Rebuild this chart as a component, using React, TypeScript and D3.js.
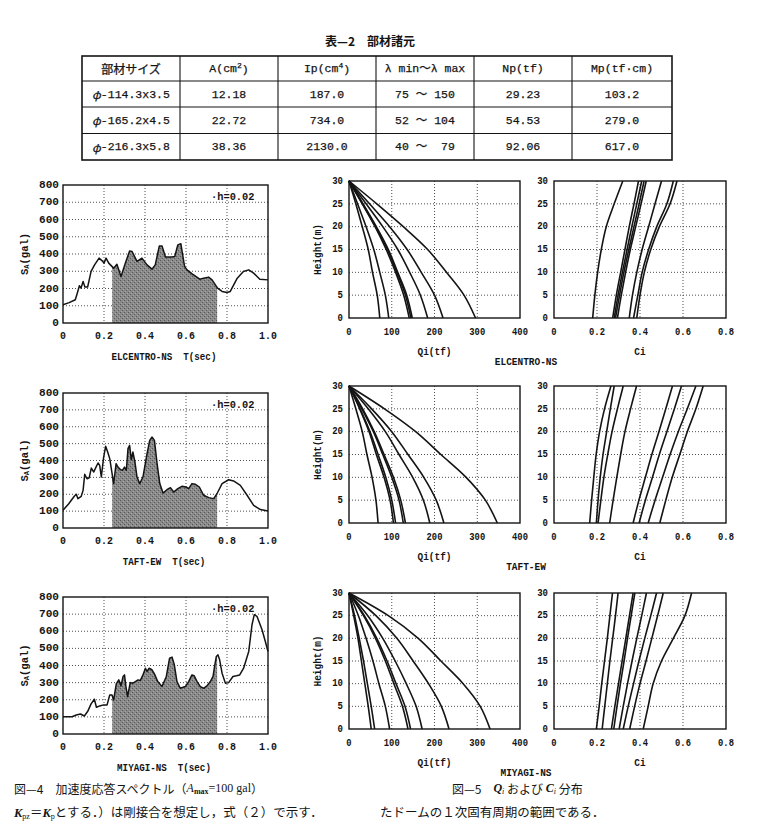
import React from 'react';
import * as d3 from 'd3';

const MONO = '"Liberation Mono", "DejaVu Sans Mono", "Noto Sans CJK JP", monospace';
const JP = '"Noto Sans CJK JP", sans-serif';
const SERIF = '"Liberation Serif", serif';
const INK = '#141414';

// ---- Table 2: member properties ----
const tableTitle = '表—2　部材諸元';
const tableHeaders: [string, string, string][] = [
  ['部材サイズ', '', ''],
  ['A(cm', '2', ')'],
  ['Ip(cm', '4', ')'],
  ['λ min～λ max', '', ''],
  ['Np(tf)', '', ''],
  ['Mp(tf·cm)', '', ''],
];
const tableRows: string[][] = [
  ['φ-114.3x3.5', '12.18', '187.0', '75 ～ 150', '29.23', '103.2'],
  ['φ-165.2x4.5', '22.72', '734.0', '52 ～ 104', '54.53', '279.0'],
  ['φ-216.3x5.8', '38.36', '2130.0', '40 ～  79', '92.06', '617.0'],
];

// ---- Fig. 4: acceleration response spectra (T [sec], SA [gal]) ----
const elcentroSpectrum: [number, number][] = [
  [0, 106], [0.03, 118], [0.06, 135], [0.07, 174], [0.08, 216], [0.088, 202], [0.098, 241],
  [0.107, 208], [0.12, 208], [0.137, 299], [0.154, 337], [0.176, 376], [0.19, 362], [0.2, 347],
  [0.21, 376], [0.223, 347], [0.247, 318], [0.263, 340], [0.283, 270], [0.304, 347], [0.325, 418],
  [0.337, 414], [0.361, 357], [0.385, 376], [0.41, 337], [0.434, 312], [0.45, 337], [0.47, 447],
  [0.483, 447], [0.5, 382], [0.53, 382], [0.545, 385], [0.56, 453], [0.575, 459], [0.593, 328],
  [0.605, 308], [0.63, 285], [0.667, 254], [0.686, 260], [0.71, 266], [0.727, 250], [0.754, 202],
  [0.776, 183], [0.8, 177], [0.816, 183], [0.85, 260], [0.88, 299], [0.906, 308], [0.93, 289],
  [0.96, 254], [1.0, 250],
];
const taftSpectrum: [number, number][] = [
  [0, 105], [0.028, 144], [0.055, 188], [0.065, 200], [0.073, 174], [0.089, 188], [0.098, 223],
  [0.106, 318], [0.117, 292], [0.128, 298], [0.138, 355], [0.15, 332], [0.161, 361], [0.171, 385],
  [0.179, 371], [0.187, 302], [0.198, 417], [0.208, 484], [0.218, 450], [0.228, 411], [0.237, 342],
  [0.247, 263], [0.259, 381], [0.268, 361], [0.28, 346], [0.29, 342], [0.3, 361], [0.309, 342],
  [0.317, 470], [0.325, 490], [0.333, 405], [0.341, 450], [0.351, 391], [0.361, 302], [0.374, 263],
  [0.39, 302], [0.41, 440], [0.423, 519], [0.434, 539], [0.446, 519], [0.459, 381], [0.472, 263],
  [0.488, 207], [0.507, 227], [0.524, 239], [0.54, 213], [0.56, 233], [0.58, 247], [0.6, 243],
  [0.613, 233], [0.629, 263], [0.646, 259], [0.665, 243], [0.686, 194], [0.711, 180], [0.735, 174],
  [0.751, 203], [0.776, 263], [0.808, 286], [0.832, 279], [0.865, 253], [0.898, 194], [0.93, 134],
  [0.963, 109], [1.0, 101],
];
const miyagiSpectrum: [number, number][] = [
  [0, 101], [0.044, 101], [0.065, 111], [0.085, 117], [0.104, 105], [0.12, 131], [0.137, 176],
  [0.153, 203], [0.163, 156], [0.179, 164], [0.198, 170], [0.215, 170], [0.228, 228], [0.239, 228],
  [0.247, 199], [0.26, 293], [0.272, 316], [0.283, 281], [0.293, 336], [0.3, 345], [0.307, 277],
  [0.315, 218], [0.328, 300], [0.341, 297], [0.353, 306], [0.366, 316], [0.377, 312], [0.39, 345],
  [0.402, 384], [0.41, 365], [0.42, 384], [0.434, 375], [0.446, 351], [0.462, 306], [0.483, 277],
  [0.504, 336], [0.52, 443], [0.532, 449], [0.543, 404], [0.556, 306], [0.572, 267], [0.597, 277],
  [0.613, 306], [0.629, 345], [0.64, 340], [0.654, 306], [0.67, 277], [0.686, 267], [0.702, 281],
  [0.719, 306], [0.732, 336], [0.738, 384], [0.748, 453], [0.756, 462], [0.764, 433], [0.776, 355],
  [0.792, 297], [0.808, 300], [0.829, 336], [0.846, 340], [0.862, 345], [0.881, 384], [0.906, 482],
  [0.922, 638], [0.933, 697], [0.946, 687], [0.971, 609], [0.987, 540], [1.0, 482],
];
const shadeRange: [number, number] = [0.24, 0.752];
const periodTicks = [0, 0.2, 0.4, 0.6, 0.8, 1.0];
const saTicks = [0, 100, 200, 300, 400, 500, 600, 700, 800];

// ---- Fig. 5: story shear Qi [tf] and shear coefficient Ci along the height ----
const heights = [0, 5, 10, 15, 20, 25, 30];
const heightTicks = [0, 5, 10, 15, 20, 25, 30];
const qiTicks = [0, 100, 200, 300, 400];
const ciTicks = [0, 0.2, 0.4, 0.6, 0.8];

const elcentroQi: number[][] = [
  [72, 66, 55, 45, 31, 16, 0],
  [93, 85, 72, 58, 40, 20, 0],
  [141, 128, 109, 87, 61, 31, 0],
  [145, 132, 112, 90, 62, 32, 0],
  [148, 135, 114, 92, 64, 33, 0],
  [184, 167, 142, 114, 79, 40, 0],
  [220, 200, 169, 136, 95, 48, 0],
  [296, 269, 228, 184, 127, 65, 0],
];
const taftQi: number[][] = [
  [68, 63, 54, 42, 31, 16, 0],
  [104, 96, 82, 64, 47, 25, 0],
  [109, 100, 86, 68, 49, 26, 0],
  [127, 117, 100, 79, 57, 30, 0],
  [132, 121, 104, 82, 59, 32, 0],
  [189, 174, 149, 117, 85, 45, 0],
  [222, 204, 175, 138, 100, 53, 0],
  [347, 319, 274, 215, 156, 83, 0],
];
const miyagiQi: number[][] = [
  [52, 45, 37, 29, 21, 11, 0],
  [60, 52, 43, 34, 24, 13, 0],
  [95, 85, 70, 56, 40, 22, 0],
  [138, 125, 105, 85, 62, 34, 0],
  [144, 131, 110, 89, 65, 36, 0],
  [171, 157, 134, 108, 79, 44, 0],
  [234, 216, 186, 150, 112, 63, 0],
  [330, 307, 267, 215, 162, 92, 0],
];

const elcentroCi: number[][] = [
  [0.18, 0.19, 0.203, 0.22, 0.243, 0.28, 0.32],
  [0.273, 0.29, 0.31, 0.33, 0.35, 0.372, 0.393],
  [0.28, 0.298, 0.318, 0.34, 0.362, 0.385, 0.408],
  [0.286, 0.305, 0.325, 0.348, 0.372, 0.396, 0.419],
  [0.295, 0.313, 0.333, 0.355, 0.38, 0.405, 0.429],
  [0.35, 0.365, 0.385, 0.41, 0.44, 0.47, 0.5],
  [0.37, 0.39, 0.41, 0.44, 0.478, 0.525, 0.555],
  [0.385, 0.4, 0.42, 0.45, 0.49, 0.54, 0.572],
];
const taftCi: number[][] = [
  [0.166, 0.175, 0.185, 0.196, 0.212, 0.235, 0.265],
  [0.197, 0.205, 0.215, 0.228, 0.245, 0.262, 0.28],
  [0.205, 0.218, 0.232, 0.25, 0.27, 0.295, 0.322],
  [0.259, 0.275, 0.292, 0.31, 0.33, 0.356, 0.384],
  [0.368, 0.395, 0.425, 0.455, 0.488, 0.52, 0.551],
  [0.396, 0.425, 0.458, 0.49, 0.525, 0.56, 0.593],
  [0.438, 0.47, 0.505, 0.54, 0.578, 0.62, 0.66],
  [0.492, 0.52, 0.55, 0.585, 0.62, 0.66, 0.694],
];
const miyagiCi: number[][] = [
  [0.197, 0.21, 0.222, 0.235, 0.248, 0.26, 0.272],
  [0.224, 0.236, 0.248, 0.26, 0.273, 0.286, 0.298],
  [0.267, 0.283, 0.3, 0.317, 0.334, 0.351, 0.368],
  [0.278, 0.293, 0.309, 0.326, 0.342, 0.359, 0.376],
  [0.303, 0.322, 0.342, 0.363, 0.385, 0.408, 0.43],
  [0.322, 0.345, 0.37, 0.395, 0.422, 0.45, 0.477],
  [0.352, 0.375, 0.4, 0.428, 0.455, 0.482, 0.508],
  [0.415, 0.438, 0.461, 0.5, 0.555, 0.609, 0.64],
];

const fmtDec = (v: number) => (v === 0 ? '0' : v.toFixed(1));

type Box = { x0: number; x1: number; y0: number; y1: number };

// Condensed monospace label: horizontally squeezed around its anchor point.
function CText({ x, y, sx = 1, size = 11, anchor = 'middle', rotate = 0, children }: { x: number; y: number; sx?: number; size?: number; anchor?: string; rotate?: number; children: React.ReactNode }) {
  return (
    <text
      transform={`translate(${x},${y})${rotate ? ` rotate(${rotate})` : ''} scale(${sx},1)`}
      textAnchor={anchor as any}
      dominantBaseline="central"
      fontFamily={MONO}
      fontWeight={700}
      fontSize={size}
      fill={INK}
      style={{ whiteSpace: 'pre' }}
    >
      {children}
    </text>
  );
}

function Grid({ xs, ys, box }: { xs: number[]; ys: number[]; box: Box }) {
  return (
    <g stroke="#3a3a3a" strokeWidth={0.9} strokeDasharray="1 2">
      {xs.map((x, i) => <line key={'gx' + i} x1={x} x2={x} y1={box.y0} y2={box.y1} />)}
      {ys.map((y, i) => <line key={'gy' + i} x1={box.x0} x2={box.x1} y1={y} y2={y} />)}
    </g>
  );
}

function Spectrum({ id, data, top, bottom, label }: { id: string; data: [number, number][]; top: number; bottom: number; label: string }) {
  const box: Box = { x0: 63, x1: 268, y0: top, y1: bottom };
  const x = d3.scaleLinear().domain([0, 1]).range([box.x0, box.x1]);
  const y = d3.scaleLinear().domain([0, 800]).range([bottom, top]);
  const line = d3.line<[number, number]>().x(d => x(d[0])).y(d => y(d[1]));
  const area = d3.area<[number, number]>().x(d => x(d[0])).y0(y(0)).y1(d => y(d[1]));
  const clip = `shade-${id}`;
  return (
    <g>
      <defs>
        <clipPath id={clip}>
          <rect x={x(shadeRange[0])} y={top} width={x(shadeRange[1]) - x(shadeRange[0])} height={bottom - top} />
        </clipPath>
      </defs>
      <Grid xs={periodTicks.slice(1, -1).map(x)} ys={saTicks.slice(1, -1).map(y)} box={box} />
      <path d={area(data) || ''} fill="url(#stipple)" clipPath={`url(#${clip})`} />
      <path d={line(data) || ''} fill="none" stroke={INK} strokeWidth={1.5} strokeLinejoin="round" />
      <rect x={box.x0} y={top} width={box.x1 - box.x0} height={bottom - top} fill="none" stroke={INK} strokeWidth={1.4} />
      {saTicks.map(v => (
        <CText key={'sy' + v} x={box.x0 - 4} y={y(v)} anchor="end" size={11.7} sx={0.95}>{v}</CText>
      ))}
      {periodTicks.map(v => (
        <CText key={'sx' + v} x={x(v)} y={bottom + 13} size={11.7} sx={0.85}>{fmtDec(v)}</CText>
      ))}
      <CText x={164} y={bottom + 34} size={11.5} sx={0.8}>{label + '  T(sec)'}</CText>
      <text transform={`translate(25,${(top + bottom) / 2}) rotate(-90) scale(0.9,1)`} textAnchor="middle" dominantBaseline="central" fontFamily={MONO} fontWeight={700} fontSize={11.7} fill={INK}>
        S<tspan fontSize={8} dy={2}>A</tspan><tspan dy={-2}>(gal)</tspan>
      </text>
      <CText x={211} y={top + 12} anchor="start" size={11.5} sx={0.9}>·h=0.02</CText>
    </g>
  );
}

function Profile({ curves, box, max, ticks, fmt, xLabel }: { curves: number[][]; box: Box; max: number; ticks: number[]; fmt: (v: number) => string; xLabel: string }) {
  const x = d3.scaleLinear().domain([0, max]).range([box.x0, box.x1]);
  const y = d3.scaleLinear().domain([0, 30]).range([box.y1, box.y0]);
  const line = d3.line<number>().x(v => x(v)).y((_, i) => y(heights[i])).curve(d3.curveCatmullRom.alpha(0.5));
  return (
    <g>
      <Grid xs={ticks.slice(1, -1).map(x)} ys={heightTicks.slice(1, -1).map(y)} box={box} />
      <g fill="none" stroke={INK} strokeWidth={1.6}>
        {curves.map((c, i) => <path key={i} d={line(c) || ''} />)}
      </g>
      <rect x={box.x0} y={box.y0} width={box.x1 - box.x0} height={box.y1 - box.y0} fill="none" stroke={INK} strokeWidth={1.4} />
      {heightTicks.map(v => (
        <CText key={'hy' + v} x={box.x0 - 6} y={y(v)} anchor="end" size={11} sx={0.82}>{v}</CText>
      ))}
      {ticks.map(v => (
        <CText key={'px' + v} x={x(v)} y={box.y1 + 14} size={11} sx={0.8}>{fmt(v)}</CText>
      ))}
      <CText x={(box.x0 + box.x1) / 2} y={box.y1 + 34} size={11} sx={0.86}>{xLabel}</CText>
    </g>
  );
}

const panelRows = [
  { name: 'ELCENTRO-NS', spectrum: elcentroSpectrum, qi: elcentroQi, ci: elcentroCi, sTop: 185, sBottom: 323, pTop: 181, pBottom: 318 },
  { name: 'TAFT-EW', spectrum: taftSpectrum, qi: taftQi, ci: taftCi, sTop: 393, sBottom: 528, pTop: 386, pBottom: 523 },
  { name: 'MIYAGI-NS', spectrum: miyagiSpectrum, qi: miyagiQi, ci: miyagiCi, sTop: 597, sBottom: 734, pTop: 593, pBottom: 729 },
];

const colEdges = [82, 180, 278, 376, 474, 572, 672];
const rowEdges = [56, 81, 107, 133.5, 160];

function Table() {
  const cx = (i: number) => (colEdges[i] + colEdges[i + 1]) / 2;
  const cy = (j: number) => (rowEdges[j] + rowEdges[j + 1]) / 2;
  return (
    <g>
      <text x={370} y={40} textAnchor="middle" dominantBaseline="central" fontFamily={JP} fontWeight={700} fontSize={12} fill={INK}>{tableTitle}</text>
      <rect x={colEdges[0]} y={rowEdges[0]} width={colEdges[6] - colEdges[0]} height={rowEdges[4] - rowEdges[0]} fill="none" stroke={INK} strokeWidth={1.6} />
      {colEdges.slice(1, -1).map((c, i) => <line key={'c' + i} x1={c} x2={c} y1={rowEdges[0]} y2={rowEdges[4]} stroke={INK} strokeWidth={1.1} />)}
      {rowEdges.slice(1, -1).map((r, i) => <line key={'r' + i} x1={colEdges[0]} x2={colEdges[6]} y1={r} y2={r} stroke={INK} strokeWidth={1.1} />)}
      <g fontFamily={MONO} fontSize={11.5} fill={INK} stroke={INK} strokeWidth={0.25} style={{ whiteSpace: 'pre' }}>
        {tableHeaders.map(([t, sup, tail], i) => (
          <text key={'h' + i} x={cx(i)} y={cy(0)} textAnchor="middle" dominantBaseline="central" fontFamily={i === 0 ? JP : MONO} fontSize={i === 0 ? 12 : 11.5}>
            {t}{sup ? <tspan fontSize={8} dy={-4}>{sup}</tspan> : null}{tail ? <tspan dy={sup ? 4 : 0}>{tail}</tspan> : null}
          </text>
        ))}
        {tableRows.map((row, j) => row.map((cell, i) => (
          <text key={j + '-' + i} x={cx(i)} y={cy(j + 1)} textAnchor="middle" dominantBaseline="central" xmlSpace="preserve">
            {i === 0 ? <><tspan fontFamily={JP} fontStyle="italic">{cell[0]}</tspan>{cell.slice(1)}</> : cell}
          </text>
        )))}
      </g>
    </g>
  );
}

export default function App() {
  return (
    <svg width={763} height={825} viewBox="0 0 763 825" style={{ position: 'absolute', left: 0, top: 0, background: '#fff' }}>
      <defs>
        <pattern id="stipple" width={4} height={4} patternUnits="userSpaceOnUse">
          <rect width={4} height={4} fill="#8a8a8a" />
          <rect x={0} y={0} width={1} height={1} fill="#555" />
          <rect x={2} y={2} width={1} height={1} fill="#5a5a5a" />
          <rect x={3} y={1} width={1} height={1} fill="#aaa" />
          <rect x={1} y={3} width={1} height={1} fill="#a4a4a4" />
        </pattern>
      </defs>
      <rect width={763} height={825} fill="#fff" />
      <Table />
      {panelRows.map(r => (
        <g key={r.name}>
          <Spectrum id={r.name} data={r.spectrum} top={r.sTop} bottom={r.sBottom} label={r.name} />
          <Profile curves={r.qi} box={{ x0: 349, x1: 520, y0: r.pTop, y1: r.pBottom }} max={400} ticks={qiTicks} fmt={v => String(v)} xLabel="Qi(tf)" />
          <Profile curves={r.ci} box={{ x0: 554, x1: 726, y0: r.pTop, y1: r.pBottom }} max={0.8} ticks={ciTicks} fmt={fmtDec} xLabel="Ci" />
          <CText x={318} y={(r.pTop + r.pBottom) / 2} rotate={-90} size={11} sx={0.86}>Height(m)</CText>
          <CText x={526} y={r.pBottom + 44} size={11} sx={0.86}>{r.name}</CText>
        </g>
      ))}
      <g fontFamily={JP} fontSize={12} fill={INK}>
        <text x={14} y={788} dominantBaseline="central">
          図—4　加速度応答スペクトル（<tspan fontStyle="italic" fontFamily={SERIF}>A</tspan><tspan fontSize={8} dy={3} fontFamily={SERIF} fontWeight={700}>max</tspan><tspan dy={-3} fontFamily={SERIF}>=100 gal</tspan>）
        </text>
        <text x={452} y={788} dominantBaseline="central">
          図—5　<tspan fontStyle="italic" fontFamily={SERIF} fontWeight={700}>Q</tspan><tspan fontSize={8} dy={3} fontStyle="italic" fontFamily={SERIF}>i</tspan><tspan dy={-3}> および </tspan><tspan fontStyle="italic" fontFamily={SERIF} fontWeight={700}>C</tspan><tspan fontSize={8} dy={3} fontStyle="italic" fontFamily={SERIF}>i</tspan><tspan dy={-3}> 分布</tspan>
        </text>
      </g>
      <g fontFamily={JP} fontSize={12.5} fill={INK}>
        <text x={14} y={817}>
          <tspan fontStyle="italic" fontFamily={SERIF} fontWeight={700}>K</tspan><tspan fontSize={8} dy={2} fontFamily={SERIF}>pz</tspan><tspan dy={-2}>＝</tspan><tspan fontStyle="italic" fontFamily={SERIF} fontWeight={700}>K</tspan><tspan fontSize={8} dy={2} fontFamily={SERIF}>p</tspan><tspan dy={-2}>とする．）は剛接合を想定し，式（２）で示す．</tspan>
        </text>
        <text x={380} y={817}>たドームの１次固有周期の範囲である．</text>
      </g>
    </svg>
  );
}
